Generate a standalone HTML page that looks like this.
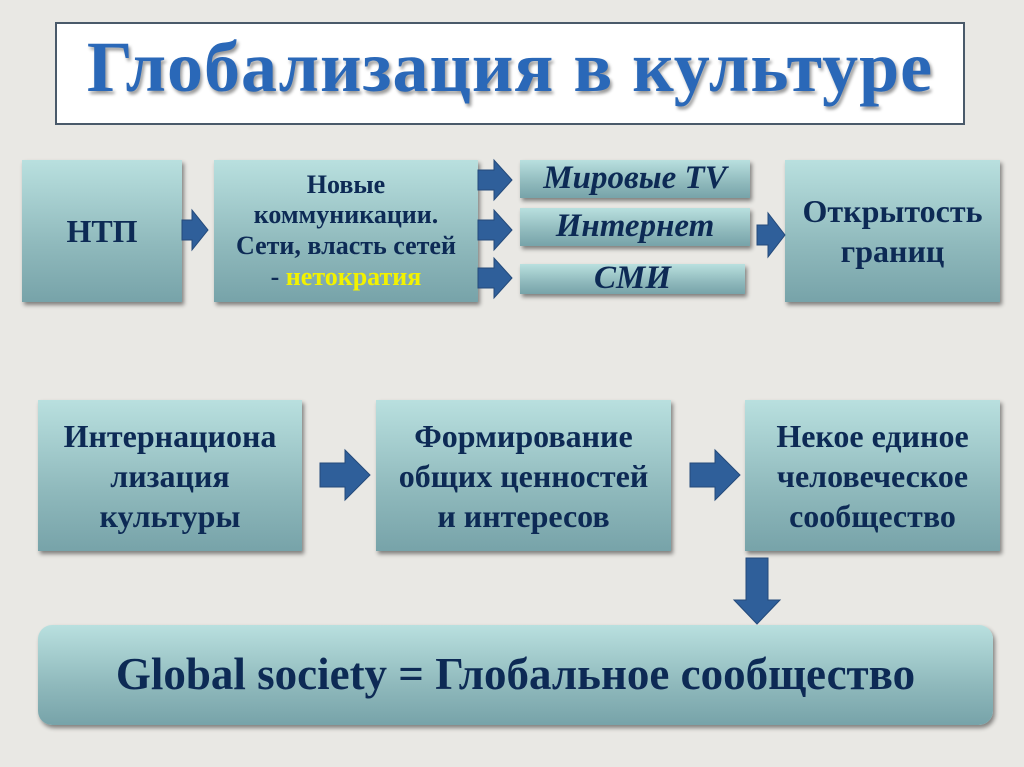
<!DOCTYPE html>
<html><head><meta charset="utf-8"><style>
*{margin:0;padding:0;box-sizing:border-box}
body{width:1024px;height:767px;position:relative;overflow:hidden;background:#e9e8e4;font-family:"Liberation Serif",serif}
.b{position:absolute;background:linear-gradient(#b9e0df,#8fb9bc 60%,#77a3a9);box-shadow:2px 3px 4px rgba(0,0,0,.45);color:#0d2a55;font-weight:bold;display:flex;align-items:center;justify-content:center;text-align:center;line-height:1.27}
.b>div{display:block;white-space:nowrap}
.i{font-style:italic;font-size:33px}
svg{position:absolute;left:0;top:0}
</style></head><body>
<div style="position:absolute;left:55px;top:22px;width:910px;height:103px;background:#fff;border:2px solid #4a5a6a"></div>
<div style="position:absolute;left:55px;top:26px;width:910px;text-align:center;font-size:72px;font-weight:bold;color:#2a68b8;text-shadow:2px 3px 3px rgba(0,0,0,.4);letter-spacing:1px;white-space:nowrap">Глобализация в культуре</div>
<div class="b" style="left:22px;top:160px;width:160px;height:142px;font-size:32px"><div>НТП</div></div>
<div class="b" style="left:214px;top:160px;width:264px;height:142px;font-size:26px;line-height:1.18"><div>Новые<br>коммуникации.<br>Сети, власть сетей<br>- <span style="color:#f2f200">нетократия</span></div></div>
<div class="b i" style="left:520px;top:160px;width:230px;height:38px"><div>Мировые TV</div></div>
<div class="b i" style="left:520px;top:208px;width:230px;height:38px"><div>Интернет</div></div>
<div class="b i" style="left:520px;top:264px;width:225px;height:30px"><div>СМИ</div></div>
<div class="b" style="left:785px;top:160px;width:215px;height:142px;font-size:32px;line-height:40px"><div>Открытость<br>границ</div></div>
<div class="b" style="left:38px;top:400px;width:264px;height:151px;font-size:32px;line-height:40px"><div>Интернациона<br>лизация<br>культуры</div></div>
<div class="b" style="left:376px;top:400px;width:295px;height:151px;font-size:32px;line-height:40px"><div>Формирование<br>общих ценностей<br>и интересов</div></div>
<div class="b" style="left:745px;top:400px;width:255px;height:151px;font-size:32px;line-height:40px"><div>Некое единое<br>человеческое<br>сообщество</div></div>
<div class="b" style="left:38px;top:625px;width:955px;height:100px;font-size:45px;border-radius:14px"><div>Global society = Глобальное сообщество</div></div>
<svg width="1024" height="767"><g fill="#2f5f9a" stroke="#244a7a" stroke-width="1">
<polygon points="182,220 192,220 192,210 208,230 192,250 192,240 182,240"/>
<polygon points="478,170 494,170 494,160 512,180 494,200 494,190 478,190"/>
<polygon points="478,220 494,220 494,210 512,230 494,250 494,240 478,240"/>
<polygon points="478,268 494,268 494,258 512,278 494,298 494,288 478,288"/>
<polygon points="757,225 768,225 768,213 785,235 768,257 768,245 757,245"/>
<polygon points="320,463 345,463 345,450 370,475 345,500 345,487 320,487"/>
<polygon points="690,463 715,463 715,450 740,475 715,500 715,487 690,487"/>
<polygon points="746,558 768,558 768,600 780,600 757,624 734,600 746,600"/>
</g></svg>
</body></html>
